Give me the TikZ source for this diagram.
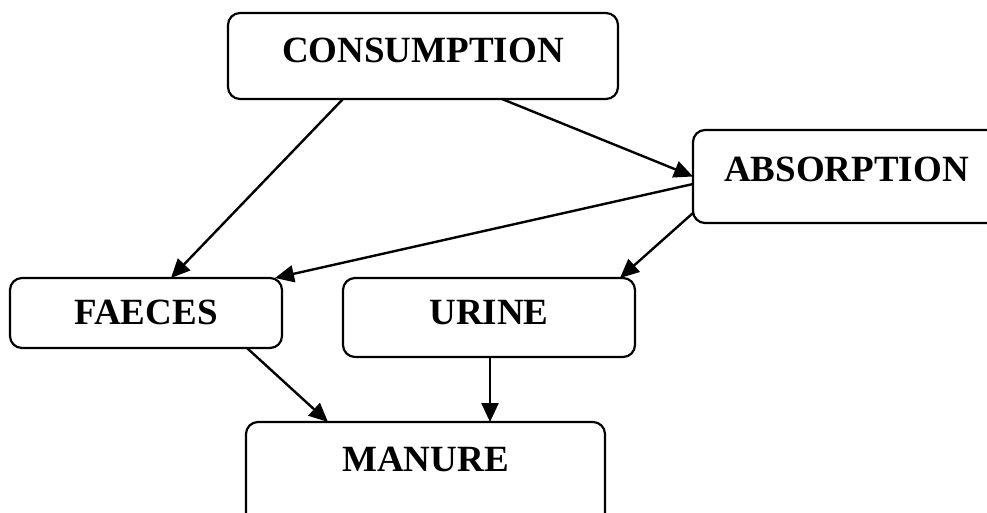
\documentclass[tikz,border=0pt]{standalone}
\usepackage{fontspec}
\setmainfont{Liberation Serif}
\usetikzlibrary{arrows.meta,calc}
\tikzset{
  box/.style={draw, line width=2.2pt, rounded corners=12pt, inner sep=0pt, outer sep=0pt},
  lbl/.style={anchor=base, inner sep=0pt, font=\fontsize{37}{40}\selectfont\bfseries},
  conn/.style={line width=2.4pt, -{Triangle[length=19pt,width=17pt]}}
}
\begin{document}
\begin{tikzpicture}[x=1pt,y=-1pt]
\clip (0,0) rectangle (987,512);
\node[box, minimum width=390pt, minimum height=86pt] (cons) at (423,56) {};
\node[box, minimum width=307pt, minimum height=93pt] (abs) at (846.5,176.5) {};
\node[box, minimum width=272pt, minimum height=70pt] (faec) at (146,313) {};
\node[box, minimum width=292pt, minimum height=79pt] (urine) at (489,317.5) {};
\node[box, minimum width=359pt, minimum height=108pt] (man) at (425.5,476) {};

\node[lbl] (tcons) at ($(cons.north)+(0,49)$) {CONSUMPTION};
\node[lbl] (tabs) at ($(abs.north)+(0,51)$) {ABSORPTION};
\node[lbl] (tfaec) at ($(faec.north)+(0,46)$) {FAECES};
\node[lbl] (turine) at ($(urine.north)+(0,46)$) {URINE};
\node[lbl] (tman) at ($(man.north)+(0,49)$) {MANURE};

\draw[conn] ($(cons.south west)+(115,0)$) -- ($(faec.north west)+(161,0)$);
\draw[conn] ($(cons.south west)+(274,0)$) -- (abs.west);
\draw[conn] ($(abs.west)+(0,7.5)$) -- ($(faec.north east)+(-7,0)$);
\draw[conn] ($(abs.south west)+(0,-10)$) -- ($(urine.north east)+(-15,0)$);
\draw[conn] ($(faec.south west)+(237,0)$) -- ($(man.north west)+(82,0)$);
\draw[conn] ($(urine.south)+(1,0)$) -- ($(man.north west)+(244,0)$);
\end{tikzpicture}
\end{document}
